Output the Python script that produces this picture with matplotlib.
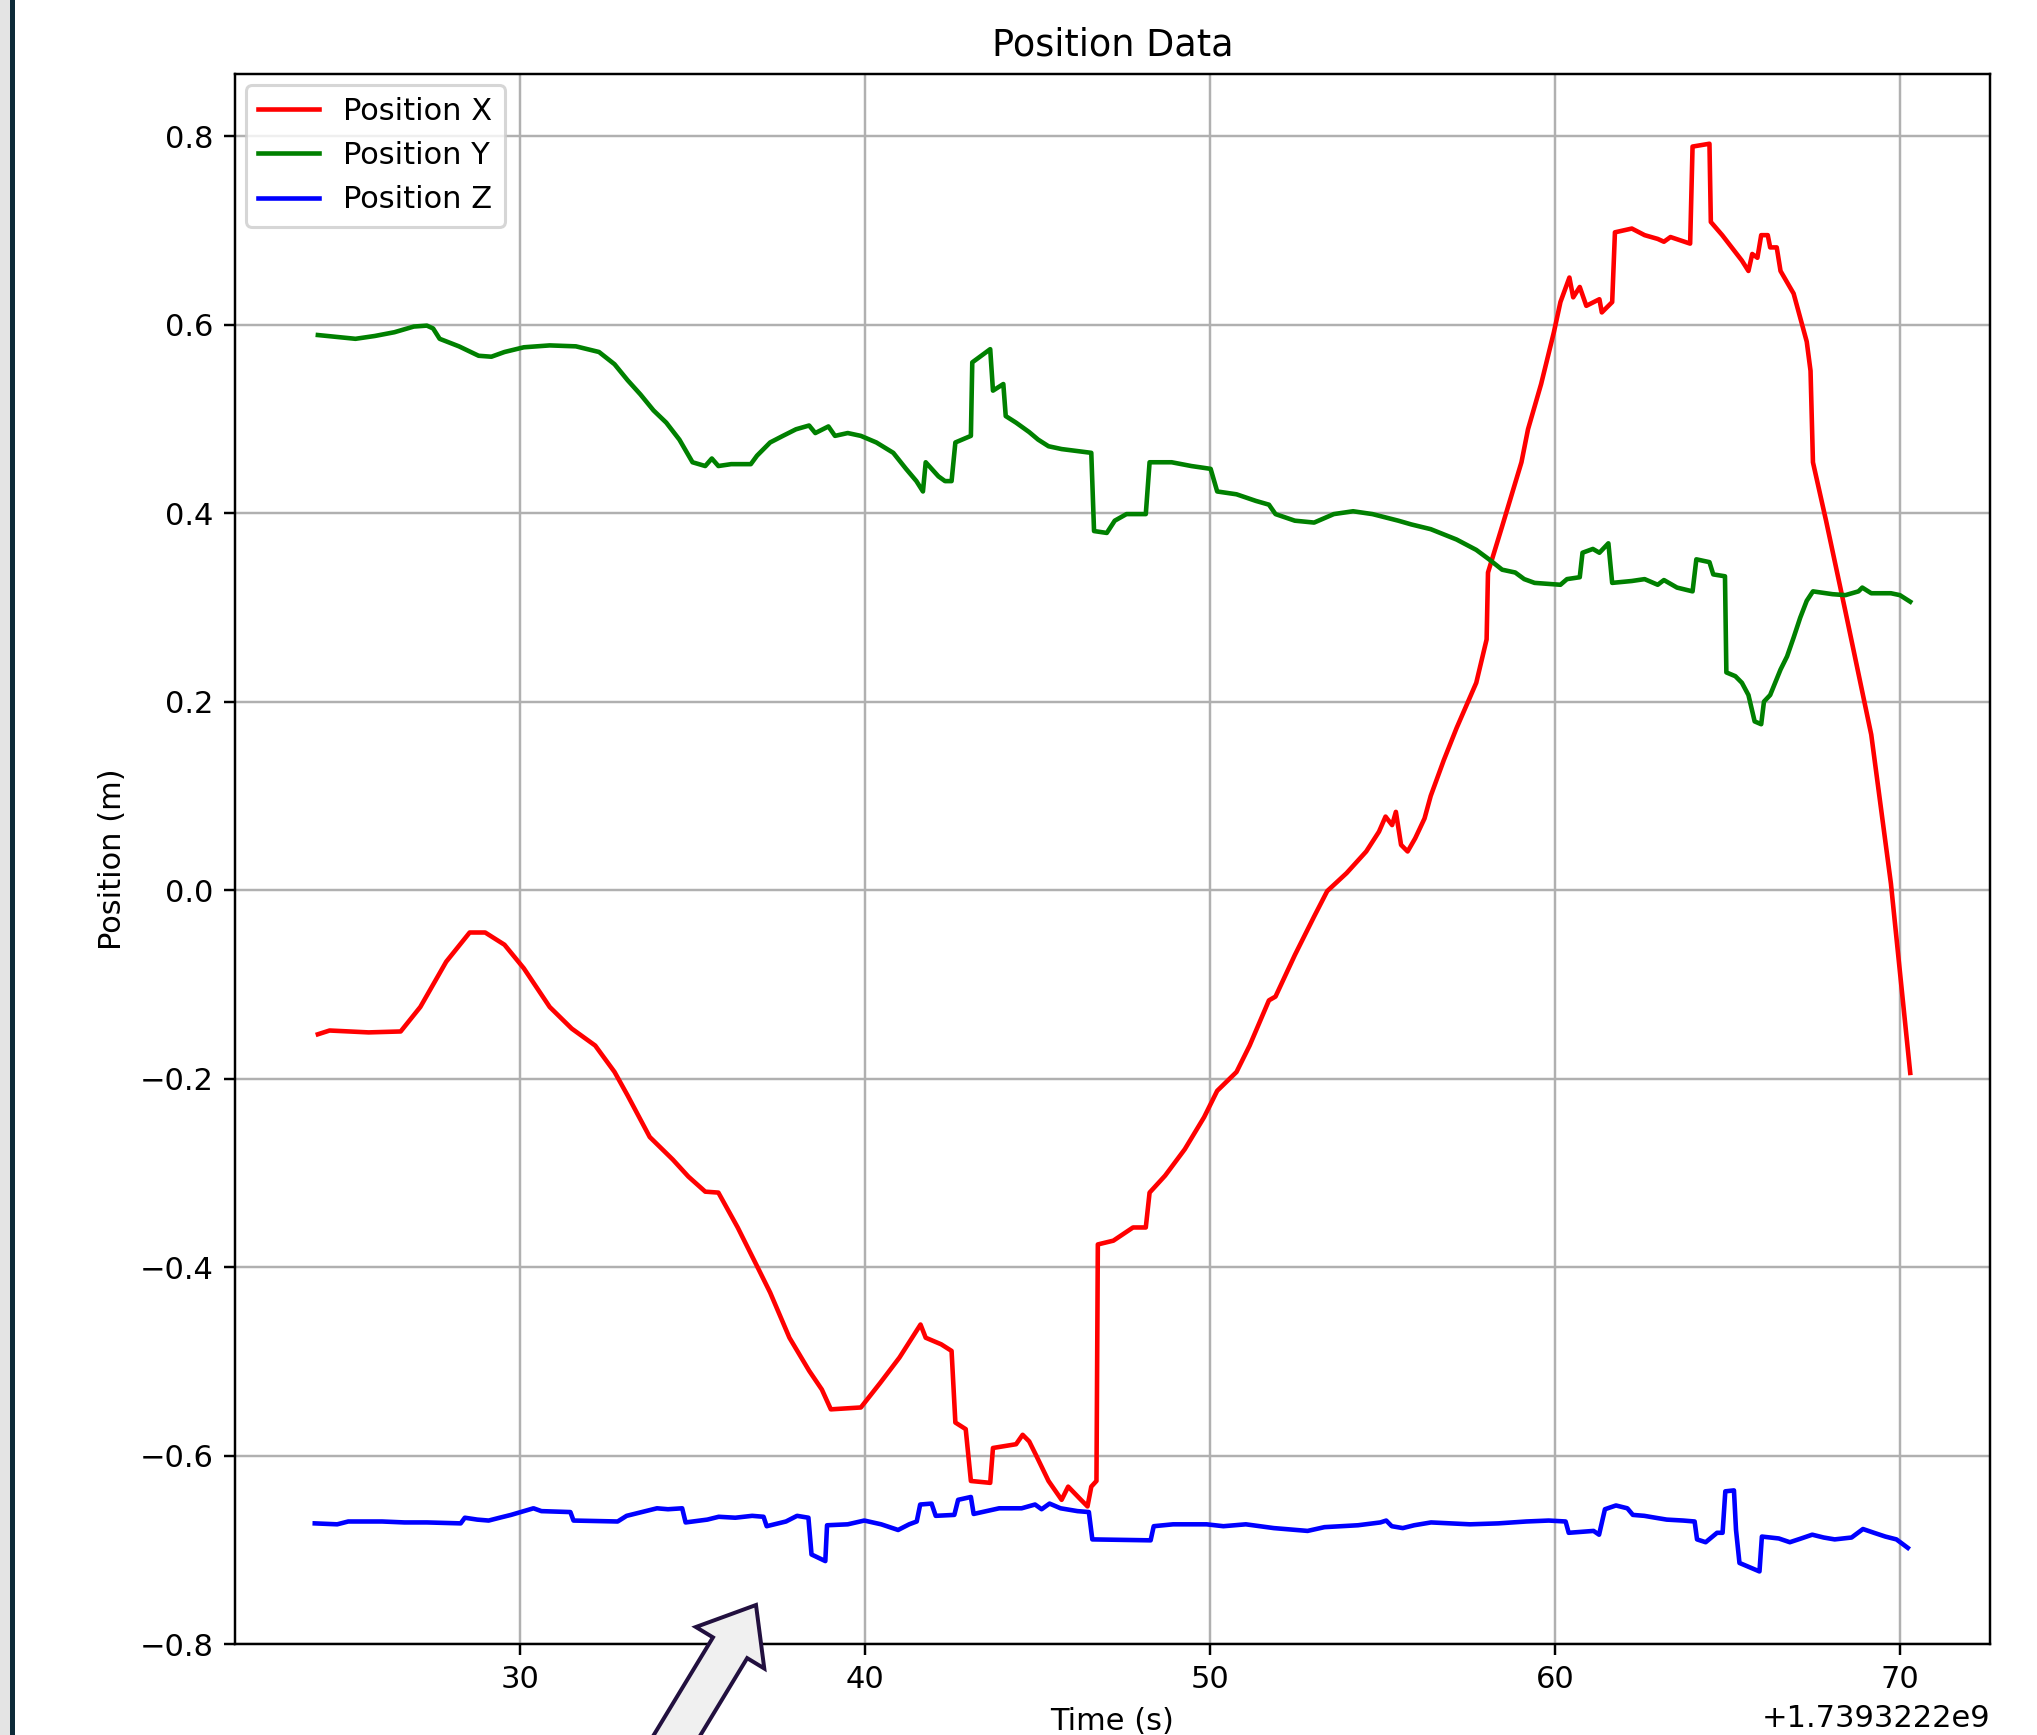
import matplotlib.pyplot as plt
from matplotlib.patches import FancyArrow, Rectangle
import numpy as np

# Unix time offset shown by the x axis
t0 = 1739322200

# Position X (red), relative time (s) and value (m)
x_time = [24.14, 24.48, 25.61, 26.54, 27.11, 27.86, 28.54, 28.99, 29.55, 30.11,
          30.86, 31.50, 32.18, 32.74, 33.12, 33.76, 34.43, 34.88, 35.37, 35.75,
          36.31, 36.87, 37.25, 37.81, 38.38, 38.75, 39.01, 39.88, 40.44, 41.00,
          41.61, 41.76, 42.21, 42.51, 42.62, 42.92, 43.07, 43.63, 43.71, 44.38,
          44.57, 44.76, 44.95, 45.32, 45.70, 45.89, 46.26, 46.45, 46.56, 46.71,
          46.75, 47.20, 47.77, 48.14, 48.25, 48.70, 49.27, 49.83, 50.21, 50.77,
          51.15, 51.71, 51.90, 52.46, 53.02, 53.40, 53.96, 54.53, 54.90, 55.09,
          55.28, 55.39, 55.54, 55.73, 55.95, 56.22, 56.40, 56.78, 57.15, 57.72,
          58.02, 58.06, 58.47, 59.03, 59.22, 59.60, 59.97, 60.16, 60.42, 60.53,
          60.72, 60.91, 61.29, 61.36, 61.66, 61.74, 62.23, 62.60, 62.98, 63.16,
          63.35, 63.92, 63.99, 64.48, 64.52, 64.85, 65.42, 65.61, 65.72, 65.87,
          65.98, 66.17, 66.24, 66.43, 66.54, 66.92, 67.30, 67.41, 67.48, 67.86,
          68.42, 69.17, 69.74, 70.30]
x_pos = [-0.153, -0.149, -0.151, -0.150, -0.124, -0.076, -0.045, -0.045, -0.058, -0.083,
         -0.124, -0.147, -0.165, -0.193, -0.218, -0.262, -0.286, -0.304, -0.320, -0.321,
         -0.358, -0.399, -0.427, -0.475, -0.510, -0.530, -0.551, -0.549, -0.523, -0.496,
         -0.461, -0.475, -0.482, -0.489, -0.565, -0.572, -0.627, -0.629, -0.592, -0.588,
         -0.578, -0.585, -0.599, -0.627, -0.647, -0.633, -0.647, -0.654, -0.633, -0.627,
         -0.376, -0.372, -0.358, -0.358, -0.321, -0.303, -0.275, -0.241, -0.213, -0.193,
         -0.165, -0.117, -0.113, -0.069, -0.028, -0.001, 0.018, 0.041, 0.062, 0.078,
         0.069, 0.083, 0.048, 0.041, 0.055, 0.076, 0.100, 0.138, 0.172, 0.220,
         0.266, 0.337, 0.386, 0.454, 0.489, 0.537, 0.592, 0.624, 0.650, 0.629,
         0.640, 0.620, 0.627, 0.613, 0.624, 0.698, 0.702, 0.695, 0.691, 0.688,
         0.693, 0.686, 0.789, 0.792, 0.709, 0.695, 0.668, 0.657, 0.675, 0.671,
         0.695, 0.695, 0.682, 0.682, 0.657, 0.633, 0.582, 0.551, 0.454, 0.392,
         0.296, 0.165, 0.007, -0.194]

# Position Y (green)
y_time = [24.14, 24.67, 25.23, 25.79, 26.36, 26.92, 27.30, 27.48, 27.67, 28.23,
          28.80, 29.17, 29.55, 30.11, 30.86, 31.62, 32.29, 32.74, 33.12, 33.49,
          33.87, 34.24, 34.62, 35.00, 35.37, 35.56, 35.75, 36.12, 36.69, 36.87,
          37.25, 37.62, 38.00, 38.38, 38.56, 38.94, 39.13, 39.50, 39.88, 40.33,
          40.82, 41.19, 41.49, 41.68, 41.76, 42.13, 42.32, 42.51, 42.62, 43.07,
          43.11, 43.63, 43.71, 44.01, 44.08, 44.38, 44.76, 45.02, 45.32, 45.70,
          46.56, 46.64, 47.01, 47.24, 47.58, 48.14, 48.25, 48.89, 49.46, 50.02,
          50.21, 50.77, 51.33, 51.71, 51.90, 52.46, 53.02, 53.59, 54.15, 54.71,
          55.46, 55.84, 56.40, 57.15, 57.72, 58.09, 58.47, 58.85, 59.11, 59.41,
          60.16, 60.35, 60.72, 60.80, 61.10, 61.29, 61.55, 61.66, 62.23, 62.60,
          62.98, 63.16, 63.54, 63.99, 64.10, 64.48, 64.59, 64.93, 64.97, 65.23,
          65.42, 65.61, 65.79, 65.98, 66.06, 66.24, 66.54, 66.73, 66.92, 67.11,
          67.30, 67.48, 68.05, 68.42, 68.80, 68.91, 69.17, 69.74, 70.00, 70.30]
y_pos = [0.589, 0.587, 0.585, 0.588, 0.592, 0.598, 0.599, 0.596, 0.585, 0.577,
         0.567, 0.566, 0.571, 0.576, 0.578, 0.577, 0.571, 0.558, 0.541, 0.526,
         0.509, 0.496, 0.478, 0.454, 0.450, 0.458, 0.450, 0.452, 0.452, 0.461,
         0.475, 0.482, 0.489, 0.493, 0.485, 0.492, 0.482, 0.485, 0.482, 0.475,
         0.464, 0.447, 0.434, 0.423, 0.454, 0.439, 0.434, 0.434, 0.475, 0.482,
         0.560, 0.574, 0.530, 0.537, 0.503, 0.496, 0.486, 0.478, 0.471, 0.468,
         0.464, 0.381, 0.379, 0.392, 0.399, 0.399, 0.454, 0.454, 0.450, 0.447,
         0.423, 0.420, 0.413, 0.409, 0.399, 0.392, 0.390, 0.399, 0.402, 0.399,
         0.392, 0.388, 0.383, 0.372, 0.361, 0.351, 0.340, 0.337, 0.330, 0.326,
         0.324, 0.330, 0.332, 0.358, 0.362, 0.358, 0.368, 0.326, 0.328, 0.330,
         0.324, 0.329, 0.321, 0.317, 0.351, 0.348, 0.335, 0.333, 0.231, 0.227,
         0.220, 0.207, 0.179, 0.176, 0.200, 0.207, 0.234, 0.248, 0.268, 0.289,
         0.307, 0.317, 0.314, 0.313, 0.317, 0.321, 0.315, 0.315, 0.313, 0.306]

# Position Z (blue)
z_time = [24.05, 24.70, 25.02, 26.00, 26.65, 27.30, 28.28, 28.40, 28.76, 29.09,
          29.41, 29.74, 30.39, 30.62, 31.46, 31.55, 32.83, 33.09, 33.64, 33.97,
          34.29, 34.70, 34.80, 35.43, 35.76, 36.24, 36.73, 37.06, 37.15, 37.71,
          38.03, 38.36, 38.45, 38.85, 38.90, 39.50, 39.98, 40.47, 40.96, 41.28,
          41.50, 41.60, 41.93, 42.05, 42.59, 42.70, 43.07, 43.15, 43.89, 44.54,
          44.93, 45.12, 45.35, 45.67, 46.16, 46.49, 46.59, 48.28, 48.37, 48.93,
          49.90, 50.39, 51.04, 51.85, 52.83, 53.32, 54.29, 54.94, 55.11, 55.27,
          55.59, 55.92, 56.41, 57.54, 58.36, 59.17, 59.82, 60.31, 60.40, 61.12,
          61.28, 61.45, 61.77, 62.10, 62.26, 62.59, 62.91, 63.24, 63.72, 64.05,
          64.12, 64.37, 64.70, 64.86, 64.94, 65.19, 65.25, 65.35, 65.93, 66.00,
          66.49, 66.81, 67.14, 67.46, 67.79, 68.11, 68.60, 68.93, 69.25, 69.58,
          69.90, 70.23]
z_pos = [-0.672, -0.673, -0.670, -0.670, -0.671, -0.671, -0.672, -0.666, -0.668, -0.669,
         -0.666, -0.663, -0.656, -0.659, -0.660, -0.669, -0.670, -0.664, -0.659, -0.656,
         -0.657, -0.656, -0.671, -0.668, -0.665, -0.666, -0.664, -0.665, -0.675, -0.670,
         -0.664, -0.666, -0.705, -0.712, -0.674, -0.673, -0.669, -0.673, -0.679, -0.673,
         -0.670, -0.652, -0.651, -0.664, -0.663, -0.647, -0.644, -0.662, -0.656, -0.656,
         -0.652, -0.657, -0.651, -0.656, -0.659, -0.660, -0.689, -0.690, -0.675, -0.673,
         -0.673, -0.675, -0.673, -0.677, -0.680, -0.676, -0.674, -0.671, -0.669, -0.675,
         -0.677, -0.674, -0.671, -0.673, -0.672, -0.670, -0.669, -0.670, -0.682, -0.680,
         -0.684, -0.657, -0.653, -0.656, -0.663, -0.664, -0.666, -0.668, -0.669, -0.670,
         -0.689, -0.692, -0.682, -0.682, -0.638, -0.637, -0.679, -0.714, -0.723, -0.686,
         -0.688, -0.692, -0.688, -0.684, -0.687, -0.689, -0.687, -0.678, -0.682, -0.686,
         -0.689, -0.698]

dpi = 220
fig = plt.figure(figsize=(2037 / dpi, 1735 / dpi), dpi=dpi)
ax = fig.add_axes([235 / 2037, 1 - 1644 / 1735, (1990 - 235) / 2037, (1644 - 74) / 1735])

ax.plot(t0 + np.array(x_time), x_pos, color='r', label='Position X')
ax.plot(t0 + np.array(y_time), y_pos, color='g', label='Position Y')
ax.plot(t0 + np.array(z_time), z_pos, color='b', label='Position Z')

ax.set_ylim(-0.8, 0.866)
ax.set_title('Position Data')
ax.set_xlabel('Time (s)')
ax.set_ylabel('Position (m)')
ax.legend(loc='upper left', borderaxespad=0.35)
ax.grid(True)

# screenshot frame on the left edge
px = fig.dpi_scale_trans
fig.patches.append(Rectangle((0, 0), 9.5 / dpi, 1735 / dpi, transform=px,
                             facecolor='#e4e4e4', edgecolor='none'))
fig.patches.append(Rectangle((9.5 / dpi, 0), 5 / dpi, 1735 / dpi, transform=px,
                             facecolor='#0d2a38', edgecolor='none'))

# pointer arrow drawn over the bottom of the chart
tail = (662 / dpi, (1735 - 1760) / dpi)
tip = (756 / dpi, (1735 - 1605) / dpi)
arrow = FancyArrow(tail[0], tail[1], tip[0] - tail[0], tip[1] - tail[1],
                   width=40 / dpi, head_width=80 / dpi, head_length=50 / dpi,
                   length_includes_head=True, transform=px,
                   facecolor='#f0f0f0', edgecolor='#22103f', linewidth=1.3)
arrow.set_clip_on(False)
fig.patches.append(arrow)

fig.savefig('out.png', dpi=dpi)
